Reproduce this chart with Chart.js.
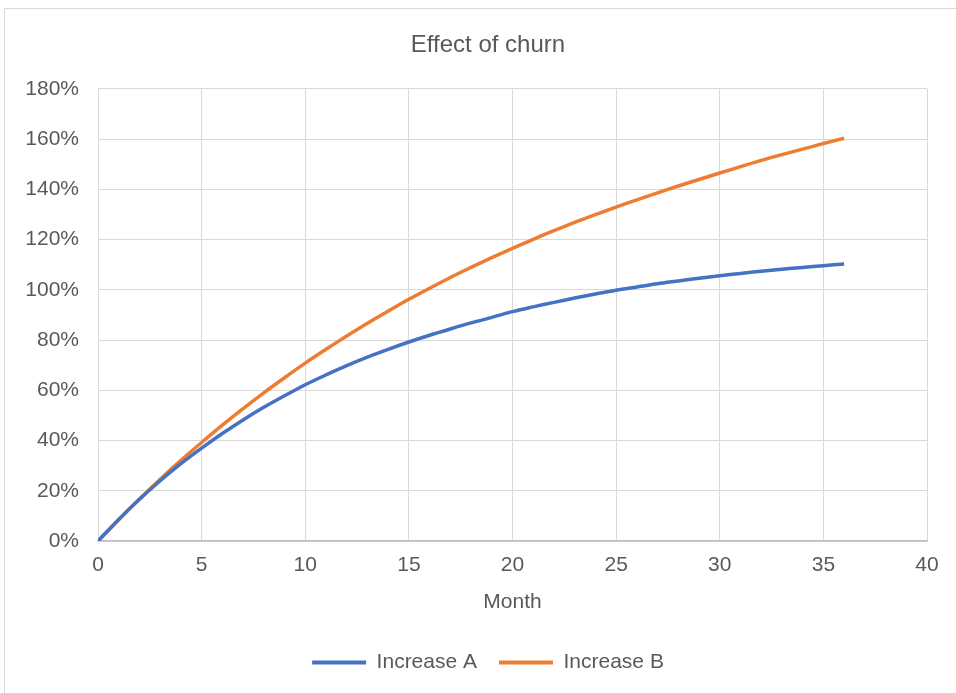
<!DOCTYPE html>
<html lang="en">
<head>
  <meta charset="UTF-8"/>
  <title>Effect of churn</title>
  <script src="https://cdn.jsdelivr.net/npm/chart.js"></script>
  <style>
    body {
      margin: 0;
      padding: 0;
      background: #fff;
      overflow: hidden;
    }
    .wrap {
      position: relative;
      width: 976px;
      height: 693px;
    }
    .frame {
      position: absolute;
      left: 4px;
      top: 8px;
      width: 990px;
      height: 720px;
      border: 1px solid #d9d9d9;
      pointer-events: none;
    }
    canvas {
      position: absolute;
      left: 0;
      top: 0;
    }
  </style>
</head>
<body>

<div class="wrap">
  <canvas id="churnChart" width="976" height="693"></canvas>
  <div class="frame"></div>
</div>

<script>
  // month number (x) and cumulative increase in percent (y)
  const months = [0, 1, 2, 3, 4, 5, 6, 7, 8, 9, 10, 11, 12, 13, 14, 15, 16, 17, 18,
                  19, 20, 21, 22, 23, 24, 25, 26, 27, 28, 29, 30, 31, 32, 33, 34, 35, 36];
  const increaseA = [0, 8.6, 16.6, 24.0, 30.8, 37.0, 42.8, 48.2, 53.2, 57.8, 62.2, 66.1, 69.8,
                     73.2, 76.3, 79.2, 81.9, 84.4, 86.8, 89.0, 91.3, 93.2, 95.0, 96.7, 98.3,
                     99.8, 101.1, 102.4, 103.5, 104.6, 105.6, 106.5, 107.4, 108.2, 108.9, 109.6, 110.3];
  const increaseB = [0, 8.5, 16.7, 24.6, 32.1, 39.2, 46.1, 52.7, 59.0, 65.0, 70.8, 76.3, 81.6,
                     86.7, 91.5, 96.2, 100.6, 104.9, 108.9, 112.8, 116.5, 120.1, 123.5, 126.8, 129.9,
                     132.9, 135.8, 138.6, 141.3, 143.9, 146.5, 149.0, 151.5, 153.8, 156.0, 158.2, 160.3];
  const yTickLabels = ["0%", "20%", "40%", "60%", "80%", "100%", "120%", "140%", "160%", "180%"];
  const xTickLabels = ["0", "5", "10", "15", "20", "25", "30", "35", "40"];

  const textColor = "#595959";
  const font = "'Liberation Sans', Arial, sans-serif";

  function points(values) {
    return months.map((m, i) => ({ x: m, y: values[i] }));
  }

  const ctx = document.getElementById("churnChart").getContext("2d");
  new Chart(ctx, {
    type: "line",
    data: {
      datasets: [
        {
          label: "Increase A",
          data: points(increaseA),
          borderColor: "#4472C4",
          backgroundColor: "#4472C4",
          borderWidth: 3.5,
          pointRadius: 0,
          tension: 0.3
        },
        {
          label: "Increase B",
          data: points(increaseB),
          borderColor: "#ED7D31",
          backgroundColor: "#ED7D31",
          borderWidth: 3.5,
          pointRadius: 0,
          tension: 0.3
        }
      ]
    },
    options: {
      responsive: false,
      animation: false,
      layout: {
        padding: { left: 0, right: 0, top: 0, bottom: 10 }
      },
      plugins: {
        title: {
          display: true,
          text: "Effect of churn",
          color: textColor,
          font: { family: font, size: 24, weight: "normal" },
          padding: { top: 31, bottom: 29 }
        },
        legend: {
          position: "bottom",
          labels: {
            color: textColor,
            font: { family: font, size: 21 },
            boxWidth: 54,
            boxHeight: 4,
            padding: 22,
            generateLabels: chart =>
              Chart.defaults.plugins.legend.labels.generateLabels(chart)
                .map(item => ({ ...item, lineWidth: 0 }))
          }
        },
        tooltip: { enabled: false }
      },
      scales: {
        x: {
          type: "linear",
          min: 0,
          max: 40,
          grid: { color: "#d9d9d9", drawTicks: false },
          border: { color: "#bfbfbf", width: 1.5 },
          ticks: {
            stepSize: 5,
            color: textColor,
            font: { family: font, size: 21 },
            padding: 12,
            maxRotation: 0,
            autoSkip: false,
            callback: (v, i) => xTickLabels[i]
          },
          title: {
            display: true,
            text: "Month",
            color: textColor,
            font: { family: font, size: 21 },
            padding: { top: 10, bottom: 15 }
          },
          afterFit: scale => { scale.height = 89; }
        },
        y: {
          position: "left",
          min: 0,
          max: 180,
          grid: { color: "#d9d9d9", drawTicks: false },
          border: { color: "#d9d9d9" },
          ticks: {
            stepSize: 20,
            color: textColor,
            font: { family: font, size: 21 },
            padding: 19,
            autoSkip: false,
            callback: (v, i) => yTickLabels[i]
          },
          afterFit: scale => { scale.width = 98; }
        },
        // empty right-hand margin so the title and legend centre on the whole frame
        spacer: {
          type: "linear",
          position: "right",
          display: true,
          grid: { display: false, drawTicks: false },
          border: { display: false },
          ticks: { display: false },
          afterFit: scale => { scale.width = 49; }
        }
      }
    }
  });
</script>

</body>
</html>
